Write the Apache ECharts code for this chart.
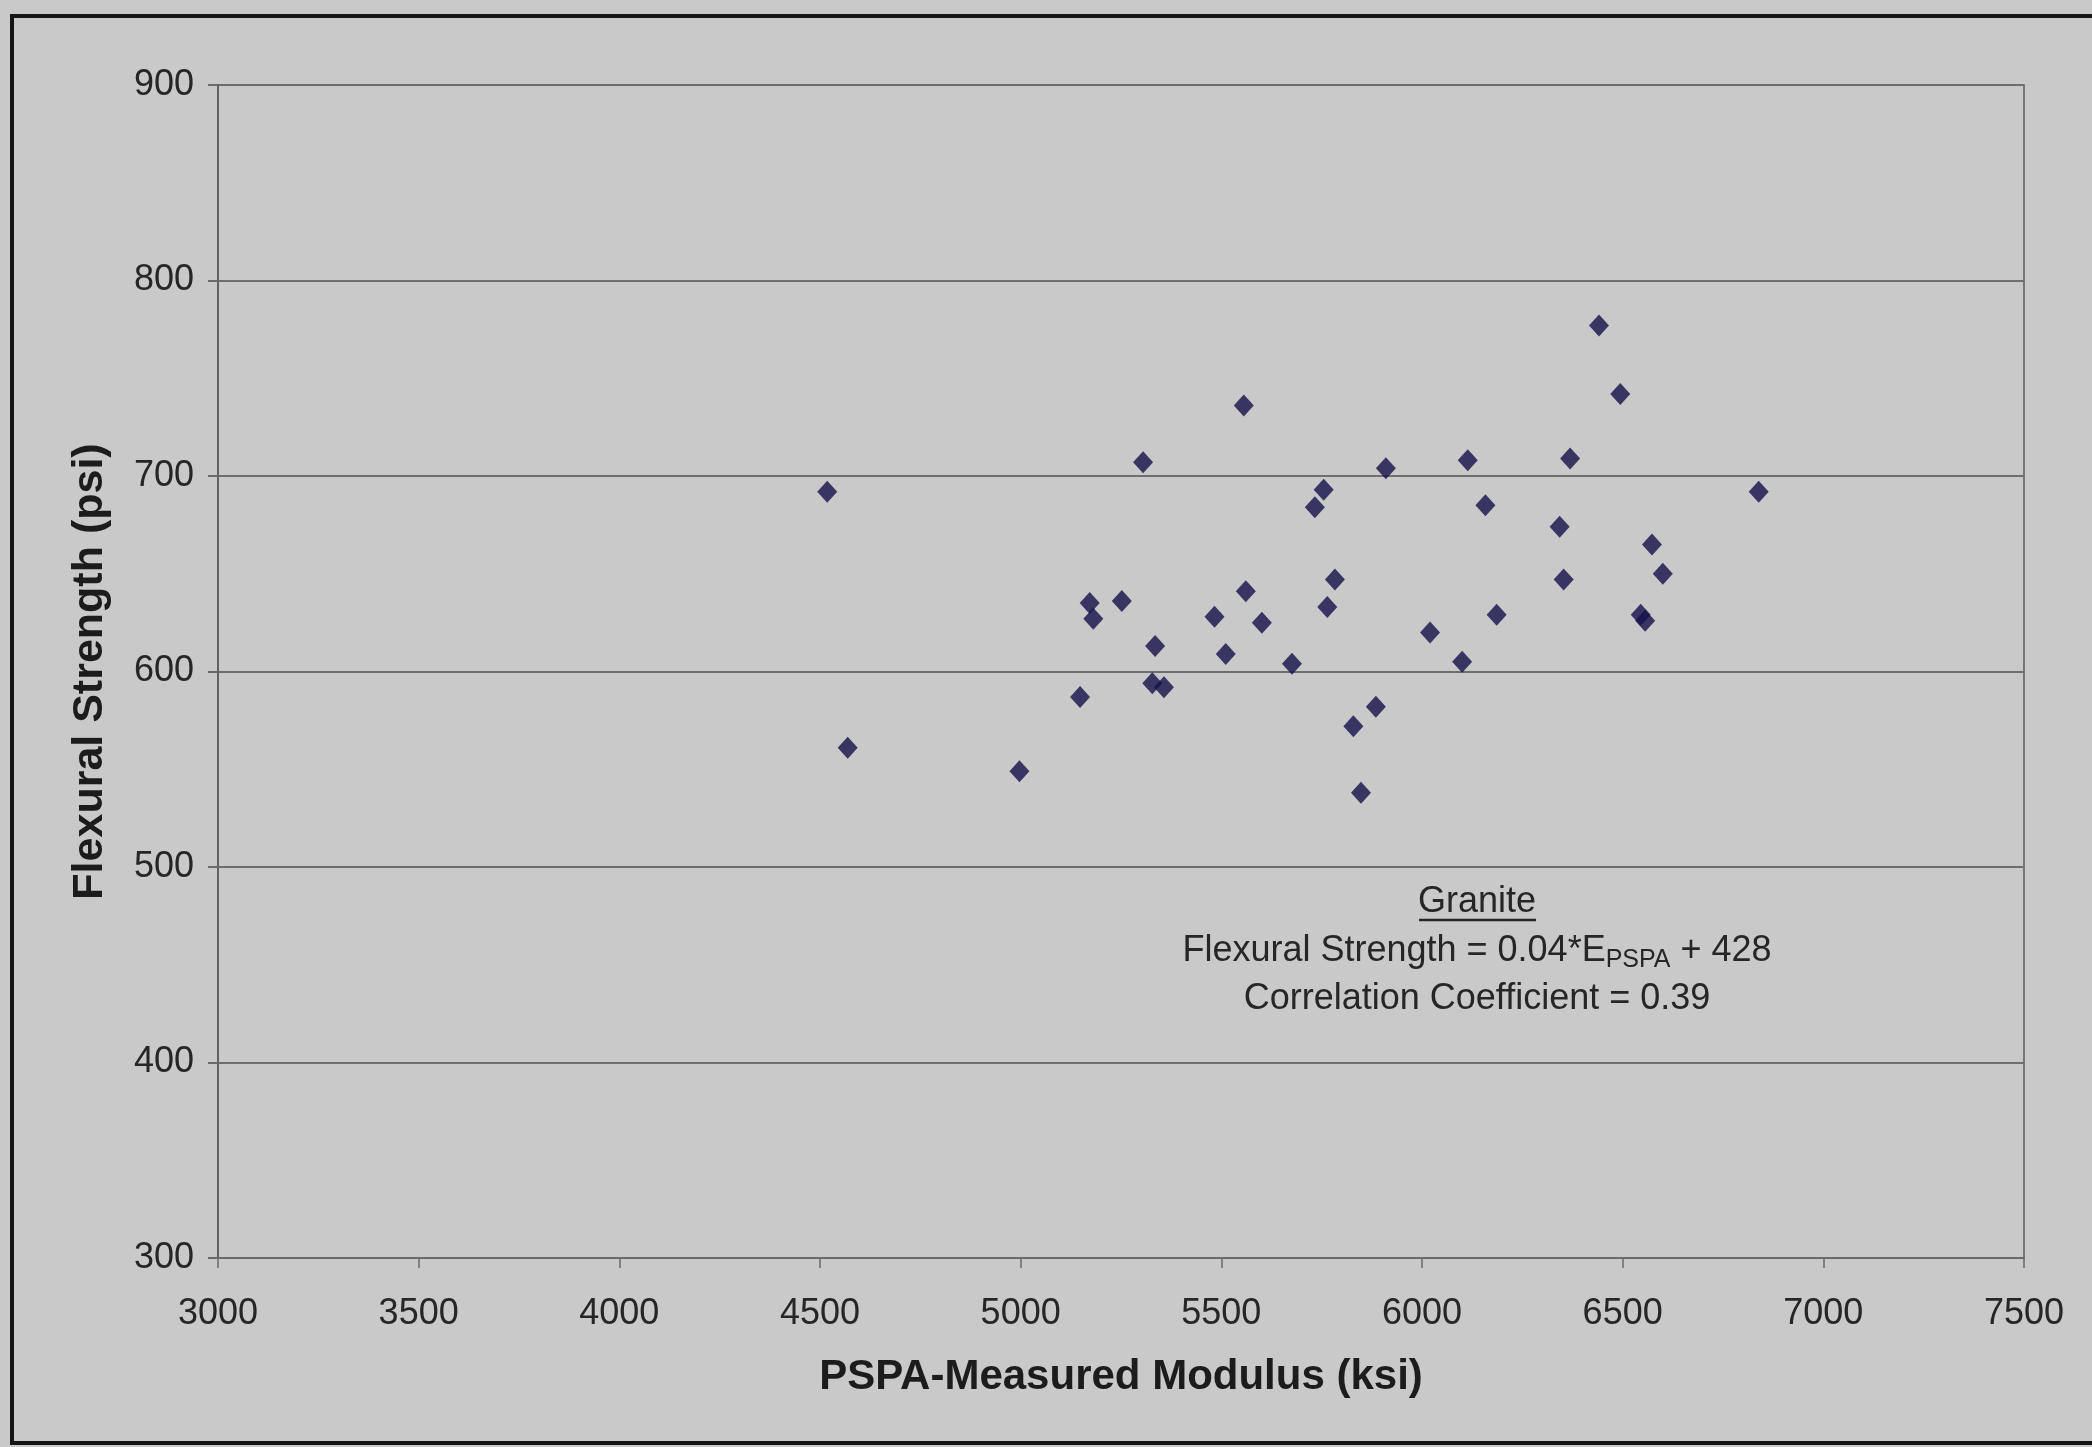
<!DOCTYPE html>
<html>
<head>
<meta charset="utf-8">
<title>Flexural Strength vs PSPA-Measured Modulus</title>
<script src="https://cdn.jsdelivr.net/npm/echarts@6/dist/echarts.min.js"></script>
<style>
  html, body { margin: 0; padding: 0; background: #c9c9c9; }
  #chart { width: 2092px; height: 1447px; }
</style>
</head>
<body>
<div id="chart"></div>
<script>
// PSPA-measured modulus (ksi) of each granite beam
const modulusKsi = [4518, 4569, 4997, 5148, 5172, 5181, 5252, 5305, 5335, 5328,
                    5357, 5483, 5511, 5556, 5561, 5601, 5676, 5733, 5755, 5764,
                    5783, 5829, 5848, 5885, 5910, 6020, 6100, 6114, 6158, 6186,
                    6343, 6353, 6369, 6441, 6494, 6545, 6556, 6573, 6600, 6839];
// Matching flexural strength (psi)
const strengthPsi = [692, 561, 549, 587, 635, 627, 636, 707, 613, 594,
                     592, 628, 609, 736, 641, 625, 604, 684, 693, 633,
                     647, 572, 538, 582, 704, 620, 605, 708, 685, 629,
                     674, 647, 709, 777, 742, 629, 626, 665, 650, 692];

const xTicks = [3000, 3500, 4000, 4500, 5000, 5500, 6000, 6500, 7000, 7500];
const yTicks = [300, 400, 500, 600, 700, 800, 900];

const annotationTitle = 'Granite';
const equationParts = ['Flexural Strength = 0.04*E', 'PSPA', ' + 428'];
const correlationText = 'Correlation Coefficient = 0.39';

const points = modulusKsi.map((x, i) => [x, strengthPsi[i]]);

const chart = echarts.init(document.getElementById('chart'), null, { renderer: 'canvas' });

const FONT = '"Liberation Sans", Arial, sans-serif';
const TEXT = '#262626';

chart.setOption({
  backgroundColor: '#c9c9c9',
  animation: false,
  grid: {
    left: 218, right: 68, top: 85, bottom: 189,
    show: true, borderColor: '#5a5a5a', borderWidth: 1.5, backgroundColor: 'transparent'
  },
  xAxis: {
    type: 'value',
    min: xTicks[0], max: xTicks[xTicks.length - 1], interval: 500,
    name: 'PSPA-Measured Modulus (ksi)',
    nameLocation: 'middle', nameGap: 98,
    nameTextStyle: { fontFamily: FONT, fontWeight: 'bold', fontSize: 42, color: '#1c1c1c' },
    axisLine: { show: true, lineStyle: { color: '#6a6a6a', width: 2 } },
    axisTick: { show: true, inside: false, length: 10, lineStyle: { color: '#6a6a6a', width: 1.5 } },
    axisLabel: { fontFamily: FONT, fontSize: 36, color: TEXT, margin: 38, formatter: v => String(v) },
    splitLine: { show: false }
  },
  yAxis: {
    type: 'value',
    min: yTicks[0], max: yTicks[yTicks.length - 1], interval: 100,
    name: 'Flexural Strength (psi)',
    nameLocation: 'middle', nameGap: 106,
    nameTextStyle: { fontFamily: FONT, fontWeight: 'bold', fontSize: 43, color: '#1c1c1c' },
    axisLine: { show: true, lineStyle: { color: '#5a5a5a', width: 1.5 } },
    axisTick: { show: true, inside: false, length: 10, lineStyle: { color: '#6a6a6a', width: 2 } },
    axisLabel: { fontFamily: FONT, fontSize: 36, color: TEXT, margin: 24, formatter: v => String(v) },
    splitLine: { show: true, lineStyle: { color: '#6e6e6e', width: 2 } }
  },
  series: [{
    type: 'scatter',
    data: points,
    symbol: 'diamond',
    symbolSize: [20, 22],
    itemStyle: { color: '#14104a' },
    z: 5
  }],
  graphic: [
    // outer frame of the figure
    {
      type: 'rect', silent: true, z: 0,
      shape: { x: 12, y: 16, width: 2200, height: 1427 },
      style: { fill: null, stroke: '#161616', lineWidth: 4 }
    },
    // regression annotation
    {
      type: 'text', z: 10,
      style: {
        text: annotationTitle, x: 1477, y: 902,
        align: 'center', verticalAlign: 'middle',
        font: '36px ' + FONT, fill: TEXT
      }
    },
    {
      type: 'line', z: 10,
      shape: { x1: 1419, y1: 920, x2: 1536, y2: 920 },
      style: { stroke: TEXT, lineWidth: 2.5 }
    },
    {
      type: 'text', z: 10,
      style: {
        text: '{m|' + equationParts[0] + '}{s|' + equationParts[1] + '}{m|' + equationParts[2] + '}',
        x: 1477, y: 951,
        align: 'center', verticalAlign: 'middle',
        fill: TEXT,
        rich: {
          m: { fontFamily: FONT, fontSize: 36, lineHeight: 44, color: TEXT },
          s: { fontFamily: FONT, fontSize: 25, lineHeight: 26, verticalAlign: 'bottom', color: TEXT }
        }
      }
    },
    {
      type: 'text', z: 10,
      style: {
        text: correlationText, x: 1477, y: 999,
        align: 'center', verticalAlign: 'middle',
        font: '36px ' + FONT, fill: TEXT
      }
    }
  ]
});
</script>
</body>
</html>
